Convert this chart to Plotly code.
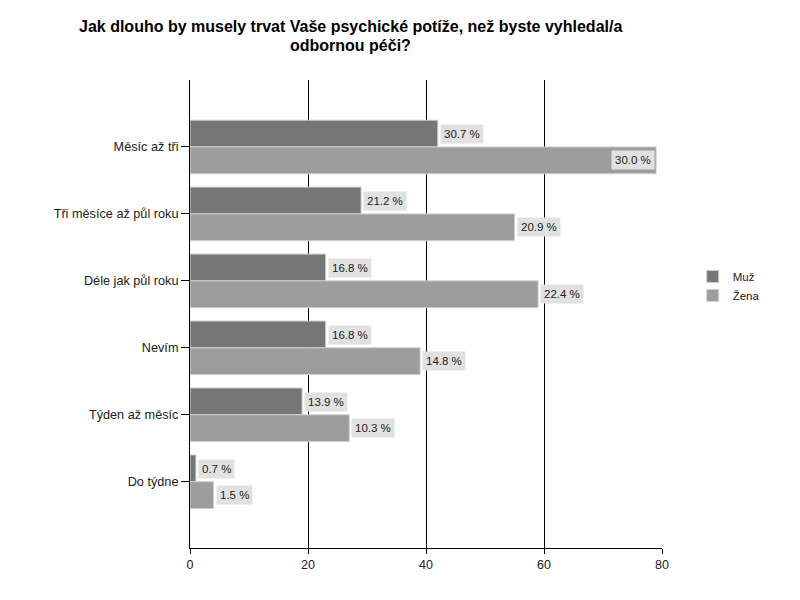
import plotly.graph_objects as go

categories = ["Měsíc až tři", "Tři měsíce až půl roku", "Déle jak půl roku",
              "Nevím", "Týden až měsíc", "Do týdne"]
muz_counts = [42, 29, 23, 23, 19, 1]
zena_counts = [79, 55, 59, 39, 27, 4]
muz_pct = ["30.7 %", "21.2 %", "16.8 %", "16.8 %", "13.9 %", "0.7 %"]
zena_pct = ["30.0 %", "20.9 %", "22.4 %", "14.8 %", "10.3 %", "1.5 %"]
x_ticks = [0, 20, 40, 60, 80]
title_lines = ["Jak dlouho by musely trvat Vaše psychické potíže, než byste vyhledal/a",
               "odbornou péči?"]

FONT = "Arial, Liberation Sans, sans-serif"

fig = go.Figure()
fig.add_trace(go.Bar(
    y=categories, x=muz_counts, orientation="h", name="Muž",
    marker=dict(color="#767676", line=dict(color="#cfcfcf", width=1)),
))
fig.add_trace(go.Bar(
    y=categories, x=zena_counts, orientation="h", name="Žena",
    marker=dict(color="#9d9d9d", line=dict(color="#cfcfcf", width=1)),
))

annotations = []
for series, pcts, shift in ((muz_counts, muz_pct, 13), (zena_counts, zena_pct, -13)):
    for cat, v, p in zip(categories, series, pcts):
        inside = v > 72
        annotations.append(dict(
            x=v, y=cat, xref="x", yref="y", text=p, showarrow=False,
            xanchor="right" if inside else "left",
            xshift=-1 if inside else 2, yshift=shift,
            bgcolor="#e1e1e1", borderpad=3,
            font=dict(family=FONT, size=11.5, color="#222222"),
        ))

# title lines: centres at y=27 and y=45 px from top (plot top at 80, height 468)
for line, ypx in zip(title_lines, (27, 45)):
    annotations.append(dict(
        x=(350 - 190) / 472, y=(548 - ypx) / 468, xref="paper", yref="paper",
        xanchor="center", yanchor="middle", text="<b>" + line + "</b>",
        showarrow=False, font=dict(family=FONT, size=16, color="#000000"),
    ))

fig.update_layout(
    annotations=annotations,
    width=800, height=600,
    margin=dict(l=190, r=138, t=80, b=52),
    paper_bgcolor="white", plot_bgcolor="white",
    barmode="group", bargap=0.2, bargroupgap=0.0,
    font=dict(family=FONT, size=12, color="#222222"),
    showlegend=True,
    legend=dict(x=1.065, y=0.56, xanchor="left", yanchor="middle",
                font=dict(family=FONT, size=11.5, color="#222222"),
                traceorder="normal", bgcolor="rgba(0,0,0,0)"),
    xaxis=dict(range=[0, 80], tickvals=x_ticks, showgrid=True, gridcolor="#000000",
               gridwidth=1, showline=True, linecolor="#000000", linewidth=1,
               ticks="outside", ticklen=5, tickcolor="#000000", zeroline=False,
               tickfont=dict(family=FONT, size=12.5, color="#222222"), fixedrange=True),
    yaxis=dict(categoryorder="array", categoryarray=categories, range=[5.99, -1.0],
               showline=True, linecolor="#000000", linewidth=1, showgrid=False,
               ticks="outside", ticklen=8, tickcolor="#000000",
               tickfont=dict(family=FONT, size=12.7, color="#222222"), fixedrange=True),
)

fig.write_html("out.html")
